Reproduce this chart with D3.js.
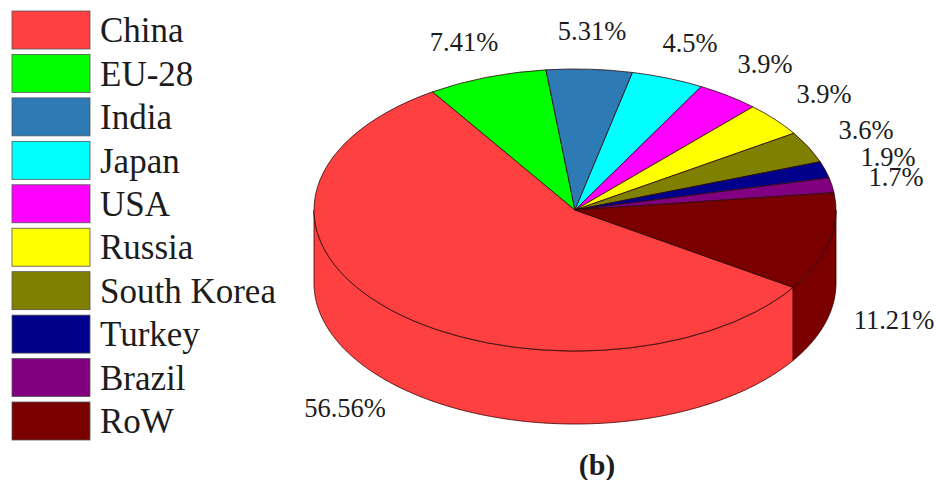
<!DOCTYPE html>
<html>
<head>
<meta charset="utf-8">
<script src="https://cdn.jsdelivr.net/npm/d3@7/dist/d3.min.js"></script>
<style>
  html, body { margin: 0; padding: 0; background: #fff; }
  svg { display: block; }
  text { font-family: "Liberation Serif", serif; fill: #1c1c1c; }
</style>
</head>
<body>
<svg id="chart" width="936" height="480"></svg>
<script>
const categories = ["China", "EU-28", "India", "Japan", "USA", "Russia", "South Korea", "Turkey", "Brazil", "RoW"];
const shares = [56.56, 7.41, 5.31, 4.5, 3.9, 3.9, 3.6, 1.9, 1.7, 11.21];
const shareLabels = ["56.56%", "7.41%", "5.31%", "4.5%", "3.9%", "3.9%", "3.6%", "1.9%", "1.7%", "11.21%"];
const colors = ["#ff4040", "#00ff00", "#2e7ab5", "#00ffff", "#ff00ff", "#ffff00", "#808000", "#00008b", "#800080", "#7a0000"];
const labelX = [345, 464, 592, 690, 765, 824, 866, 888, 896, 894];
const labelY = [408, 42, 31, 43, 64, 94, 130, 157, 177, 320];

const svg = d3.select("#chart");

// Disc geometry
const cx = 575, cy = 210, rx = 261, ry = 141, depth = 73;
const startAngle = 123.3 * Math.PI / 180;

const pie = d3.pie().sort(null).startAngle(startAngle).endAngle(startAngle + 2 * Math.PI);
const arcs = pie(shares);

const px = a => cx + rx * Math.sin(a);
const py = a => cy - ry * Math.cos(a);

// Front wall of the disc: the parts of each slice facing the viewer
const frontFrom = Math.PI / 2, frontTo = 3 * Math.PI / 2;
const wall = d3.area().x(d => px(d)).y0(d => py(d)).y1(d => py(d) + depth);
const walls = svg.append("g");
arcs.forEach((d, i) => {
  [0, 2 * Math.PI].forEach(turn => {
    const a0 = Math.max(d.startAngle - turn, frontFrom);
    const a1 = Math.min(d.endAngle - turn, frontTo);
    if (a1 <= a0) return;
    const steps = d3.range(a0, a1, 0.01).concat([a1]);
    walls.append("path")
      .attr("d", wall(steps))
      .attr("fill", colors[i])
      .attr("stroke", "#3a0000")
      .attr("stroke-width", 0.8);
  });
});

// Top face: ordinary pie wedges squashed into an ellipse
const arcGen = d3.arc().innerRadius(0).outerRadius(rx);
svg.append("g")
  .attr("transform", `translate(${cx},${cy}) scale(1,${ry / rx})`)
  .selectAll("path")
  .data(arcs)
  .join("path")
  .attr("d", arcGen)
  .attr("fill", (d, i) => colors[i])
  .attr("stroke", "#2a0a0a")
  .attr("stroke-width", 0.8)
  .attr("vector-effect", "non-scaling-stroke");

// Percentage labels
svg.append("g")
  .selectAll("text")
  .data(shareLabels)
  .join("text")
  .attr("x", (d, i) => labelX[i])
  .attr("y", (d, i) => labelY[i])
  .attr("dy", "0.33em")
  .attr("text-anchor", "middle")
  .attr("font-size", 26.5)
  .text(d => d);

// Legend
const legendY = d3.scalePoint().domain(categories).range([11, 402]);
const legend = svg.append("g").selectAll("g").data(categories).join("g")
  .attr("transform", d => `translate(12,${legendY(d)})`);
legend.append("rect")
  .attr("width", 78)
  .attr("height", 38)
  .attr("fill", (d, i) => colors[i])
  .attr("stroke", "#555")
  .attr("stroke-width", 0.8);
legend.append("text")
  .attr("x", 88)
  .attr("y", 19)
  .attr("dy", "0.35em")
  .attr("font-size", 35)
  .text(d => d);

// Panel tag
svg.append("text")
  .attr("x", 597)
  .attr("y", 465)
  .attr("dy", "0.33em")
  .attr("text-anchor", "middle")
  .attr("font-size", 30)
  .attr("font-weight", "bold")
  .text("(b)");
</script>
</body>
</html>
